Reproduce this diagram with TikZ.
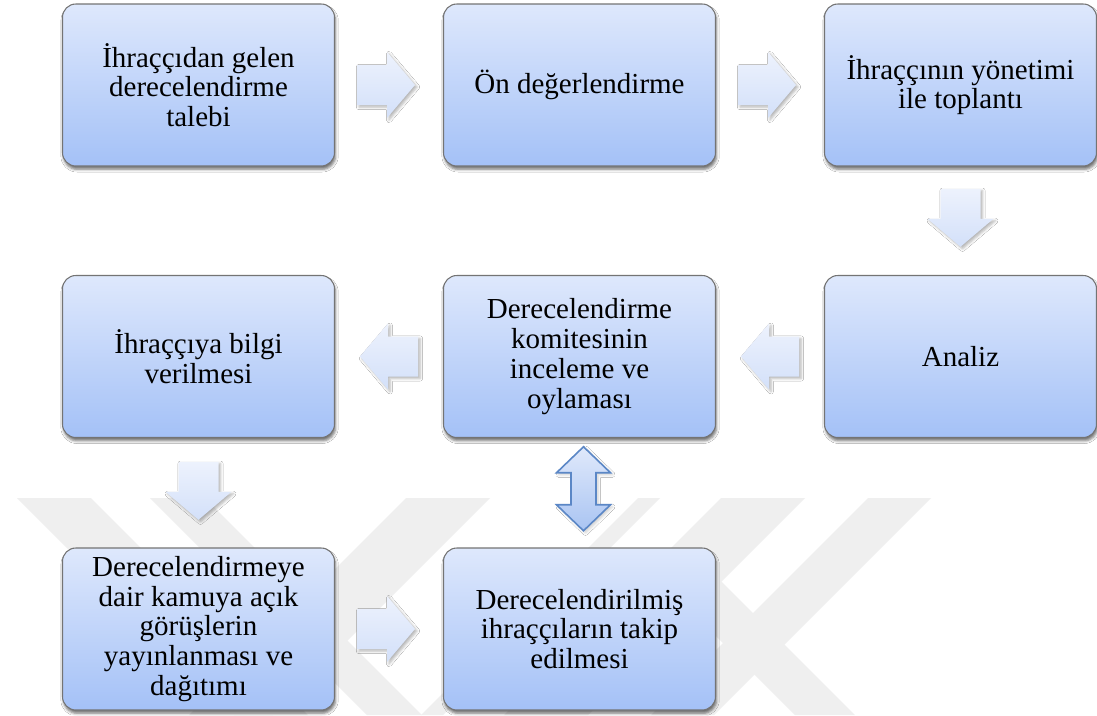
\documentclass[tikz,border=0pt]{standalone}
\usepackage{fontspec}
\setmainfont{Liberation Serif}
\usetikzlibrary{calc,shadows.blur}
\definecolor{boxtop}{HTML}{DEE8FC}
\definecolor{boxbot}{HTML}{A4C1F7}
\definecolor{boxline}{HTML}{747474}
\definecolor{arrtop}{HTML}{EDF2FD}
\definecolor{arrbot}{HTML}{D3E0F9}
\definecolor{dblline}{HTML}{5B87C6}
\definecolor{dbltop}{HTML}{E0E9FB}
\definecolor{dblbot}{HTML}{A9C4F2}
\definecolor{wm}{HTML}{EFEFEF}
\newcommand\rightarr[1]{\path[plainarr,shift={(#1)}] (-29,-20) -- (1,-20) -- (1,-33) -- (29,0) -- (1,33) -- (1,20) -- (-29,20) -- cycle;}
\newcommand\leftarr[1]{\path[plainarr,shift={(#1)}] (29,-20) -- (-1,-20) -- (-1,-33) -- (-29,0) -- (-1,33) -- (-1,20) -- (29,20) -- cycle;}
\newcommand\downarr[1]{\path[plainarr,shift={(#1)}] (-20,-29) -- (20,-29) -- (20,1) -- (33,1) -- (0,29) -- (-33,1) -- (-20,1) -- cycle;}
\begin{document}
\begin{tikzpicture}[x=0.75pt,y=-0.75pt,
  stepbox/.style={rectangle, rounded corners=10pt, draw=boxline, line width=0.8pt,
    top color=boxtop, bottom color=boxbot, minimum width=204pt, minimum height=121.5pt,
    align=center, inner sep=2pt, font=\fontsize{21.75pt}{22.3pt}\selectfont,
    blur shadow={shadow xshift=0.8pt, shadow yshift=-2.5pt, shadow opacity=55, shadow blur radius=2pt}},
  plainarr/.style={top color=arrtop, bottom color=arrbot,
    blur shadow={shadow xshift=1.5pt, shadow yshift=-1.5pt, shadow opacity=30, shadow blur radius=2pt}},
  dblarr/.style={draw=dblline, line width=1.2pt, top color=dbltop, bottom color=dblbot,
    blur shadow={shadow xshift=1.5pt, shadow yshift=-1.5pt, shadow opacity=20, shadow blur radius=2pt}},
  wmark/.style={fill=wm}]
\useasboundingbox (0,0) rectangle (1097,715);
\fill[white] (0,0) rectangle (1097,715);
% watermark
\begin{scope}
\clip (0,498) rectangle (1097,715);
\fill[wmark] (17,498) -- (91,498) -- (308,715) -- (234,715) -- cycle;
\fill[wmark] (150,498) -- (205,498) -- (422,715) -- (367,715) -- cycle;
\fill[wmark] (406,498) -- (490,498) -- (273,715) -- (189,715) -- cycle;
\fill[wmark] (638,498) -- (660,498) -- (443,715) -- (421,715) -- cycle;
\fill[wmark] (721,498) -- (805,498) -- (588,715) -- (504,715) -- cycle;
\fill[wmark] (868,498) -- (931,498) -- (714,715) -- (651,715) -- cycle;
\fill[wmark] (650,570) -- (710,570) -- (855,715) -- (795,715) -- cycle;
\end{scope}
% boxes
\node[stepbox] (b1) at (198.5,85) {İhraççıdan gelen\\derecelendirme\\talebi};
\node[stepbox] (b2) at (579.5,85) {Ön değerlendirme};
\node[stepbox] (b3) at (960.5,85) {İhraççının yönetimi\\ile toplantı};
\node[stepbox] (b4) at (960.5,356.5) {Analiz};
\node[stepbox] (b5) at (579.5,356.5) {Derecelendirme\\komitesinin\\inceleme ve\\oylaması};
\node[stepbox] (b6) at (198.5,356.5) {İhraççıya bilgi\\verilmesi};
\node[stepbox] (b7) at (198.5,629) {Derecelendirmeye\\dair kamuya açık\\görüşlerin\\yayınlanması ve\\dağıtımı};
\node[stepbox] (b8) at (579.5,629) {Derecelendirilmiş\\ihraççıların takip\\edilmesi};
% block arrows
\rightarr{$(b1.east)!0.5!(b2.west)+(-3,0)$}
\rightarr{$(b2.east)!0.5!(b3.west)+(-3,0)$}
\downarr{$(b3.south)!0.5!(b4.north)+(0,-3)$}
\leftarr{$(b4.west)!0.5!(b5.east)$}
\leftarr{$(b5.west)!0.5!(b6.east)$}
\downarr{$(b6.south)!0.5!(b7.north)+(0,-2)$}
\rightarr{$(b7.east)!0.5!(b8.west)+(-3,0)$}
\path[dblarr,shift={($(b5.south)!0.5!(b8.north)+(4,-4)$)}]
  (0,-42) -- (27,-16) -- (12.5,-16) -- (12.5,16) -- (27,16) -- (0,42) -- (-27,16) -- (-12.5,16) -- (-12.5,-16) -- (-27,-16) -- cycle;
\end{tikzpicture}
\end{document}
